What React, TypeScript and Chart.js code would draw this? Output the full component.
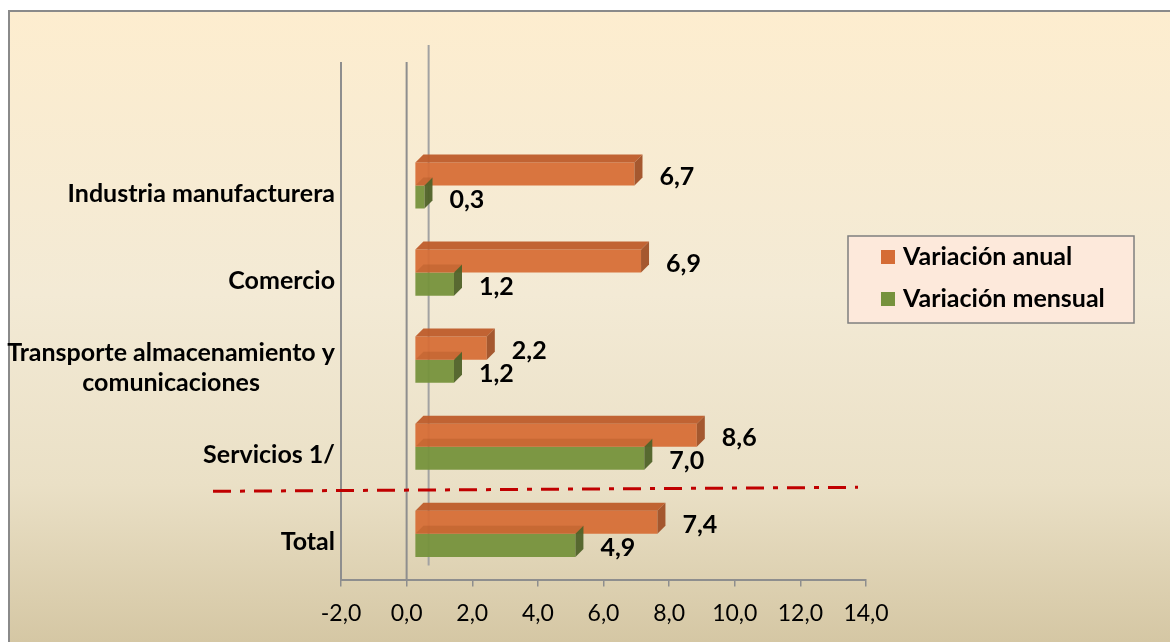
import React, { useEffect, useRef } from "react";
import { Chart, registerables } from "chart.js";

Chart.register(...registerables);

const categories: (string | string[])[] = [
  "Industria manufacturera",
  "Comercio",
  ["Transporte almacenamiento y", "comunicaciones"],
  "Servicios 1/",
  "Total",
];
const variacionAnual = [6.7, 6.9, 2.2, 8.6, 7.4];
const variacionMensual = [0.3, 1.2, 1.2, 7.0, 4.9];
const seriesNames = ["Variación anual", "Variación mensual"];
const xMin = -2;
const xMax = 14;
const xStep = 2;

const FONT = "Lato, 'Open Sans', sans-serif";
const ORANGE = "rgba(214,108,52,0.93)";
const ORANGE_TOP = "rgba(190,92,42,0.95)";
const ORANGE_SIDE = "rgba(160,80,38,0.95)";
const GREEN = "rgba(118,146,60,0.95)";
const GREEN_TOP = "rgba(150,70,25,0.25)";
const GREEN_SIDE = "rgba(79,98,40,0.95)";
const SHIFT_X = 8;
const SHIFT_Y = -3;
const DEPTH = 8;

const fmt = (v: number) => v.toFixed(1).replace(".", ",");

const backgroundPlugin = {
  id: "bgPanel",
  beforeDraw(chart: any) {
    const { ctx, width, height } = chart;
    ctx.save();
    ctx.fillStyle = "#ffffff";
    ctx.fillRect(0, 0, width, height);
    const g = ctx.createLinearGradient(0, 10, 0, height);
    g.addColorStop(0, "#FDEDCF");
    g.addColorStop(0.45, "#F3EAD5");
    g.addColorStop(0.75, "#EAE0C6");
    g.addColorStop(1, "#D5C7A4");
    ctx.fillStyle = g;
    ctx.fillRect(8, 10, width - 8, height - 10);
    ctx.strokeStyle = "#8A8A8A";
    ctx.lineWidth = 2;
    ctx.beginPath();
    ctx.moveTo(9, height);
    ctx.lineTo(9, 11);
    ctx.lineTo(width, 11);
    ctx.stroke();
    ctx.restore();
  },
  beforeDatasetsDraw(chart: any) {
    const { ctx, chartArea } = chart;
    const xs = chart.scales.x;
    const xLeft = xs.getPixelForValue(xMin);
    const xZero = xs.getPixelForValue(0);
    ctx.save();
    ctx.lineWidth = 2;
    ctx.strokeStyle = "#8E8E8E";
    ctx.beginPath();
    ctx.moveTo(xLeft, 62);
    ctx.lineTo(xLeft, chartArea.bottom);
    ctx.moveTo(xZero, 62);
    ctx.lineTo(xZero, chartArea.bottom);
    ctx.stroke();
    ctx.strokeStyle = "#A2A2A2";
    ctx.beginPath();
    ctx.moveTo(xZero + 22, 45);
    ctx.lineTo(xZero + 22, chartArea.bottom - 15);
    ctx.stroke();
    ctx.restore();
    ctx.save();
    ctx.translate(SHIFT_X, SHIFT_Y);
  },
  afterDatasetsDraw(chart: any) {
    const { ctx } = chart;
    const faces = (dsIndex: number, top: string, side: string) => {
      const meta = chart.getDatasetMeta(dsIndex);
      meta.data.forEach((bar: any) => {
        const { x, y, base, height } = bar.getProps(["x", "y", "base", "height"], true);
        const t = y - height / 2;
        const b = y + height / 2;
        ctx.fillStyle = top;
        ctx.beginPath();
        ctx.moveTo(base, t);
        ctx.lineTo(x, t);
        ctx.lineTo(x + DEPTH, t - DEPTH);
        ctx.lineTo(base + DEPTH, t - DEPTH);
        ctx.closePath();
        ctx.fill();
        ctx.fillStyle = side;
        ctx.beginPath();
        ctx.moveTo(x, t);
        ctx.lineTo(x + DEPTH, t - DEPTH);
        ctx.lineTo(x + DEPTH, b - DEPTH);
        ctx.lineTo(x, b);
        ctx.closePath();
        ctx.fill();
      });
    };
    faces(0, ORANGE_TOP, ORANGE_SIDE);
    faces(1, GREEN_TOP, GREEN_SIDE);
    ctx.restore();

    // value labels
    ctx.save();
    ctx.font = `bold 25px ${FONT}`;
    ctx.fillStyle = "#000";
    ctx.textAlign = "left";
    ctx.textBaseline = "middle";
    chart.data.datasets.forEach((ds: any, i: number) => {
      chart.getDatasetMeta(i).data.forEach((bar: any, j: number) => {
        ctx.fillText(fmt(ds.data[j]), bar.x + SHIFT_X + 25, bar.y + SHIFT_Y + 3);
      });
    });
    ctx.restore();
  },
  afterDraw(chart: any) {
    const { ctx, chartArea } = chart;
    const ys = chart.scales.y;
    // category labels
    ctx.save();
    ctx.font = `bold 25px ${FONT}`;
    ctx.fillStyle = "#000";
    ctx.textBaseline = "middle";
    const right = chartArea.left - 6;
    categories.forEach((c, i) => {
      const cy = ys.getPixelForValue(i) + SHIFT_Y + 8;
      if (Array.isArray(c)) {
        const lh = 30;
        const w = Math.max(...c.map((s) => ctx.measureText(s).width));
        const cx = right - w / 2;
        ctx.textAlign = "center";
        c.forEach((s, k) => {
          ctx.fillText(s, cx, cy + (k - (c.length - 1) / 2) * lh);
        });
      } else {
        ctx.textAlign = "right";
        ctx.fillText(c, right, cy);
      }
    });
    ctx.restore();

    // separator dash-dot line
    const ySep = (ys.getPixelForValue(3) + ys.getPixelForValue(4)) / 2 + SHIFT_Y;
    ctx.save();
    ctx.strokeStyle = "#C00000";
    ctx.lineWidth = 3;
    ctx.setLineDash([18, 9, 5, 9]);
    ctx.beginPath();
    ctx.moveTo(213, ySep + 1);
    ctx.lineTo(858, ySep - 3);
    ctx.stroke();
    ctx.restore();

    // legend
    ctx.save();
    const lx = 848, ly = 236, lw = 286, lhh = 87;
    ctx.fillStyle = "#FDE9DB";
    ctx.fillRect(lx, ly, lw, lhh);
    ctx.strokeStyle = "#7F7F7F";
    ctx.lineWidth = 1.5;
    ctx.strokeRect(lx, ly, lw, lhh);
    const colors = ["#D56C35", "#76923C"];
    ctx.font = `bold 25px ${FONT}`;
    ctx.textAlign = "left";
    ctx.textBaseline = "middle";
    seriesNames.forEach((n, i) => {
      const cy = ly + 21 + i * 42;
      ctx.fillStyle = colors[i];
      ctx.fillRect(881, cy - 7, 14, 14);
      ctx.fillStyle = "#000";
      ctx.fillText(n, 903, cy);
    });
    ctx.restore();
  },
};

export default function App() {
  const ref = useRef<HTMLCanvasElement | null>(null);
  useEffect(() => {
    if (!ref.current) return;
    const chart = new Chart(ref.current, {
      type: "bar",
      data: {
        labels: categories as any,
        datasets: [
          {
            label: seriesNames[0],
            data: variacionAnual,
            backgroundColor: ORANGE,
            categoryPercentage: 0.53,
            barPercentage: 1,
          },
          {
            label: seriesNames[1],
            data: variacionMensual,
            backgroundColor: GREEN,
            categoryPercentage: 0.53,
            barPercentage: 1,
          },
        ],
      },
      options: {
        indexAxis: "y",
        responsive: false,
        animation: false,
        devicePixelRatio: 1,
        layout: { padding: { left: 341, right: 304, top: 145, bottom: 2 } },
        plugins: { legend: { display: false }, tooltip: { enabled: false } },
        scales: {
          y: { display: false, offset: true },
          x: {
            min: xMin,
            max: xMax,
            ticks: {
              stepSize: xStep,
              padding: 13,
              color: "#000",
              font: { family: FONT, size: 23 },
              callback: (v: any) => fmt(Number(v)),
            },
            grid: {
              drawOnChartArea: false,
              drawTicks: true,
              tickLength: 6,
              color: "#8E8E8E",
              lineWidth: 1.5,
            },
            border: { display: true, color: "#8E8E8E", width: 2 },
          },
        },
      },
      plugins: [backgroundPlugin],
    });
    return () => chart.destroy();
  }, []);
  return (
    <div style={{ position: "fixed", left: 0, top: 0, width: 1170, height: 642 }}>
      <canvas ref={ref} width={1170} height={642} />
    </div>
  );
}
